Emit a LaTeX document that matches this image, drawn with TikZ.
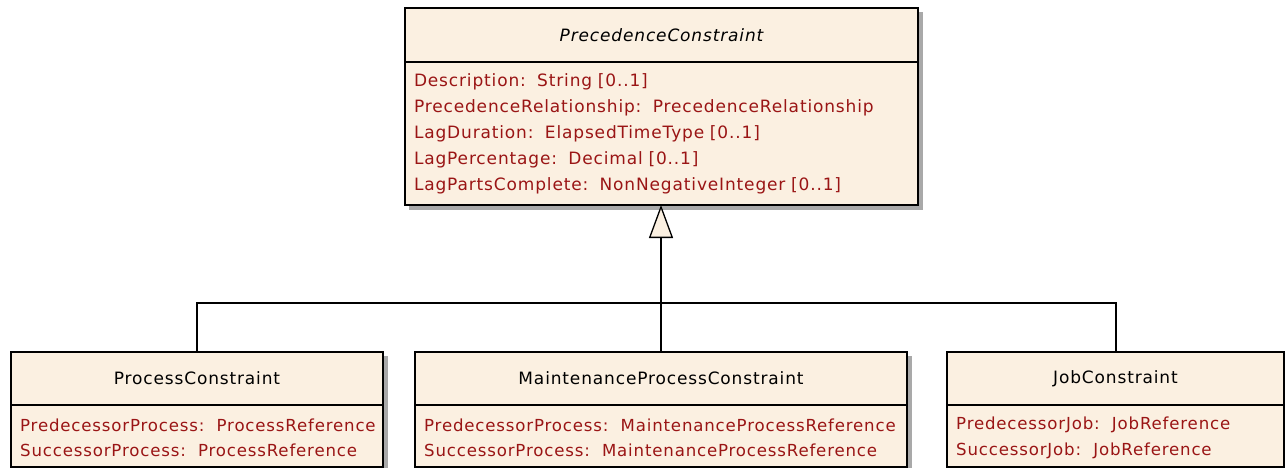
\documentclass[tikz,border=0pt]{standalone}
\usepackage{fontspec}
\setmainfont{DejaVu Sans}[LetterSpace=5]
\usetikzlibrary{arrows.meta}
\definecolor{cream}{HTML}{FBF0E1}
\definecolor{attrred}{HTML}{9A1515}
\definecolor{shadowgray}{HTML}{A9A9A9}
\tikzset{
  umlfont/.style={font=\fontsize{17}{26}\selectfont},
  smallfont/.style={font=\fontsize{16.6}{25.5}\selectfont},
  hdr/.style={draw=black, fill=cream, line width=1.3pt, umlfont, anchor=north west, inner sep=0pt, outer sep=0pt, text=black},
  attrbox/.style={draw=black, fill=cream, line width=1.3pt, umlfont, anchor=north west, inner xsep=9pt, inner ysep=0pt, outer sep=0pt, align=left, text=attrred},
  attrtext/.style={smallfont, anchor=west, inner sep=0pt, align=left, text=attrred},
  conn/.style={line width=1.3pt, draw=black},
}
\begin{document}
\begin{tikzpicture}[x=1pt,y=-1pt]
\useasboundingbox (0,0) rectangle (1285,468);
% shadows
\fill[shadowgray] (409,12) rectangle (923,210);
\fill[shadowgray] (15,356) rectangle (388,472);
\fill[shadowgray] (419,356) rectangle (912,472);
\fill[shadowgray] (951,356) rectangle (1289,472);
% top class
\node[hdr, minimum width=513pt, minimum height=54pt] (pc) at (405,8) {\itshape PrecedenceConstraint};
\node[attrbox, minimum width=513pt, minimum height=143pt, text width=495pt] (pcA) at (pc.south west) {\mbox{Description:\ \ String [0..1]}\\\mbox{PrecedenceRelationship:\ \ PrecedenceRelationship}\\\mbox{LagDuration:\ \ ElapsedTimeType [0..1]}\\\mbox{LagPercentage:\ \ Decimal [0..1]}\\\mbox{LagPartsComplete:\ \ NonNegativeInteger [0..1]}};
% bottom classes
\node[hdr, minimum width=372pt, minimum height=53pt] (proc) at (11,352) {ProcessConstraint};
\node[attrbox, minimum width=372pt, minimum height=62pt] (procA) at (proc.south west) {};
\node[attrtext] (procT) at ([xshift=9pt,yshift=-2pt]procA.west) {PredecessorProcess:\ \ ProcessReference\\SuccessorProcess:\ \ ProcessReference};
\node[hdr, minimum width=492pt, minimum height=53pt] (mpc) at (415,352) {MaintenanceProcessConstraint};
\node[attrbox, minimum width=492pt, minimum height=62pt] (mpcA) at (mpc.south west) {};
\node[attrtext] (mpcT) at ([xshift=9pt,yshift=-2pt]mpcA.west) {PredecessorProcess:\ \ MaintenanceProcessReference\\SuccessorProcess:\ \ MaintenanceProcessReference};
\node[hdr, minimum width=337pt, minimum height=53pt] (job) at (947,352) {JobConstraint};
\node[attrbox, minimum width=337pt, minimum height=62pt] (jobA) at (job.south west) {};
\node[attrtext] (jobT) at ([xshift=9pt,yshift=-2pt]jobA.west) {PredecessorJob:\ \ JobReference\\SuccessorJob:\ \ JobReference};
% connectors
\coordinate (j) at ([yshift=49pt]mpc.north);
\coordinate (jobtop) at ([xshift=0.5pt]job.north);
\draw[conn] (proc.north) |- (j) -| (jobtop);
\draw[conn] (mpc.north) -- (j);
\draw[conn, -{Triangle[fill=cream, length=33pt, width=24pt, line width=1.3pt]}] (j) -- (j |- pcA.south);
\end{tikzpicture}
\end{document}
